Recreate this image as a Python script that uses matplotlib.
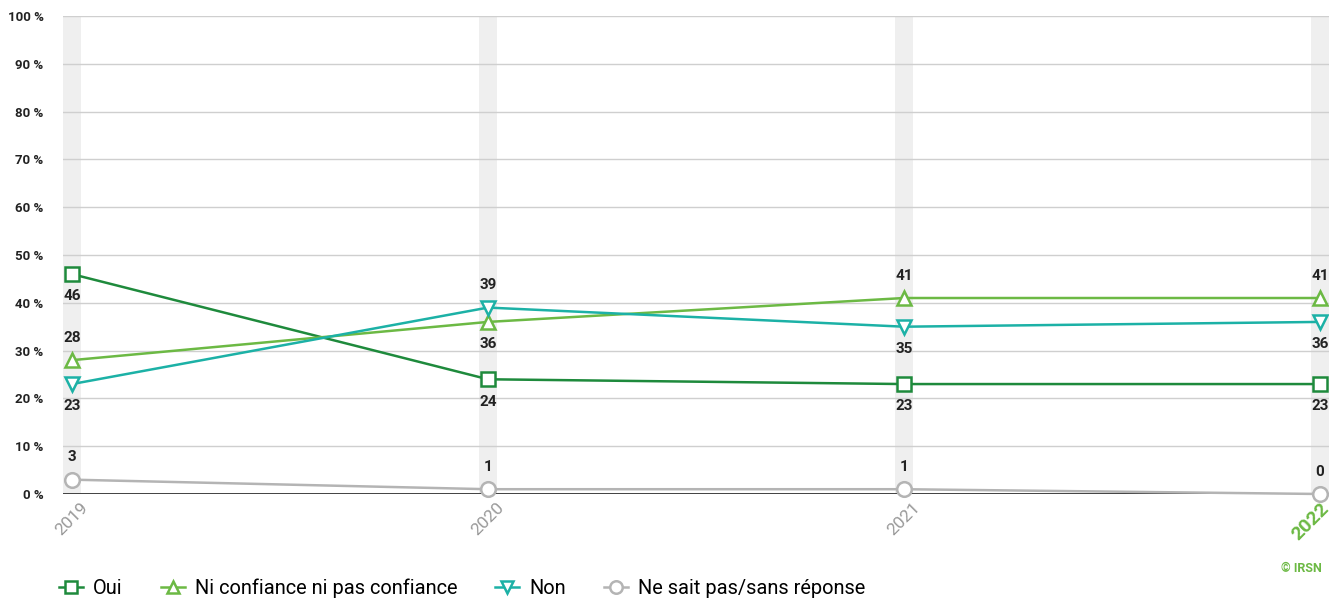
import matplotlib.pyplot as plt
from matplotlib.lines import Line2D

plt.rcParams['font.family'] = ['Roboto', 'DejaVu Sans']

years = [2019, 2020, 2021, 2022]
oui = [46, 24, 23, 23]
ni_ni = [28, 36, 41, 41]
non = [23, 39, 35, 36]
nsp = [3, 1, 1, 0]

series = [
    ('Oui', oui, '#1e8a3c', 's', ['below', 'below', 'below', 'below']),
    ('Ni confiance ni pas confiance', ni_ni, '#6cb944', '^', ['above', 'below', 'above', 'above']),
    ('Non', non, '#1cb1a6', 'v', ['below', 'above', 'below', 'below']),
    ('Ne sait pas/sans réponse', nsp, '#b4b4b4', 'o', ['above', 'above', 'above', 'above']),
]

fig = plt.figure(figsize=(13.29, 5.99), dpi=100)
ax = fig.add_axes([63 / 1329, (599 - 494) / 599, 1 - 63 / 1329, 478 / 599])

half = 9 / 416
ax.set_xlim(years[0] - half, years[-1] + half)
ax.set_ylim(0, 100)

# bandes grises verticales sur chaque annee
for yr in years:
    ax.axvspan(yr - half, yr + half, color='#efefef', zorder=0, lw=0)

for v in range(10, 101, 10):
    ax.axhline(v, color='#cfcfcf', lw=1, zorder=1)
ax.axhline(0, color='#333333', lw=1.3, zorder=2)

handles = []
for name, vals, col, mk, pos in series:
    ax.plot(years, vals, color=col, lw=1.8, marker=mk, markersize=10.5,
            markerfacecolor='white', markeredgecolor=col, markeredgewidth=1.8,
            zorder=4, clip_on=False)
    for x, v, p in zip(years, vals, pos):
        dy = 16 if p == 'above' else -16
        ax.annotate(str(v), (x, v), xytext=(0, dy), textcoords='offset points',
                    ha='center', va='center', fontsize=11, fontweight='bold',
                    color='#222222', zorder=5)
    handles.append(Line2D([0], [0], color=col, lw=1.8, marker=mk, markersize=9,
                          markerfacecolor='white', markeredgecolor=col,
                          markeredgewidth=1.8, label=name))

ax.set_yticks(range(0, 101, 10))
ax.set_yticklabels([f'{v} %' for v in range(0, 101, 10)], fontsize=9.5,
                   fontweight='bold', color='#222222')
ax.set_xticks(years)
ax.set_xticklabels([str(y) for y in years], rotation=45, ha='center', va='top',
                   fontsize=12.5, color='#999999')
# la derniere annee est mise en avant, calee a droite
last = ax.get_xticklabels()[-1]
last.set_color('#6cb944')
last.set_fontweight('bold')
last.set_fontsize(14)
last.set_ha('right')
last.set_rotation_mode('anchor')

ax.tick_params(axis='y', length=0, pad=14)
ax.tick_params(axis='x', length=0, pad=4)
for s in ax.spines.values():
    s.set_visible(False)

fig.legend(handles=handles, loc='lower left', bbox_to_anchor=(0.031, -0.028),
           ncol=4, frameon=False, fontsize=14.4, handlelength=1.2,
           columnspacing=1.9, handletextpad=0.5)

fig.text(1322 / 1329, 1 - 569 / 599, '© IRSN', ha='right', va='center',
         fontsize=9, fontweight='bold', color='#6cb944')

fig.savefig('out.png', dpi=100)
